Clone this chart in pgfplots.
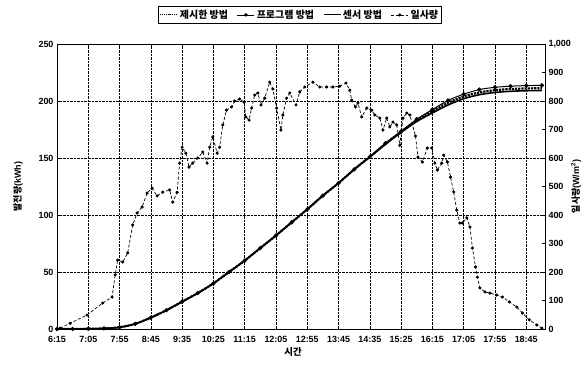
\documentclass[border=0pt]{standalone}
\usepackage{fontspec}
\setmainfont{Liberation Sans}
\newfontfamily\kr{Noto Sans CJK KR}
\usepackage{pgfplots}
\pgfplotsset{compat=1.18}

\pgfplotstableread{
t proposed program sensor
0 0 0 0
25 0 0 0
50 0.2 0.2 0.2
75 0.5 0.5 0.5
100 1.5 1.5 1.5
125 4.5 4.5 4.5
150 10 10 10
175 16.5 16.5 16.5
200 24 24 24
225 31.5 31.5 31.5
250 40 40 40
275 50 50 50
300 60 60 60
325 71 71 71
350 82 82 82
375 93.5 93.5 93.5
400 105 105 105
425 117 117 117
450 128 128 128
475 140 140 140
500 151 151 151
525 162.5 163 162
550 173 173.5 172.5
575 183 184 182
600 191 192.5 189.5
625 198.5 200.5 196.5
650 204 206 202
675 207.5 210 205.5
700 209.5 212 207.5
725 210.5 213 208.5
750 211 213.5 209
775 211.2 213.7 209.2
}\power

\pgfplotstableread{
t w
5 3
21 20
48 49
73 91
88 112
93 190
97 242
105 235
113 267
121 365
128 407
136 428
144 477
152 494
160 467
169 480
180 488
185 445
192 480
196 582
200 638
206 617
211 568
217 582
225 600
233 621
240 582
244 638
249 674
256 617
260 638
265 716
271 768
279 779
284 800
292 807
299 796
302 744
307 733
311 775
316 821
321 828
326 786
332 810
340 866
345 842
351 775
358 698
361 751
367 810
372 828
382 786
388 832
396 849
409 866
420 849
431 849
441 849
452 852
462 863
468 838
471 803
477 779
481 793
487 744
495 775
503 768
508 751
516 740
521 698
527 740
532 709
537 726
543 716
548 645
553 740
559 758
564 751
573 677
577 603
584 586
592 635
599 635
604 582
608 558
615 582
618 610
624 586
629 533
634 481
639 417
644 372
648 372
655 390
660 358
664 284
669 218
672 182
676 144
684 130
692 126
703 119
712 112
723 95
735 77
744 56
755 32
767 14
775 3
}\irr

\begin{document}
\begin{tikzpicture}
\path[use as bounding box] (0,0) rectangle (585bp,365bp);
\pgfplotsset{
  common/.style={
    at={(57bp,36bp)}, anchor=south west,
    width=488bp, height=285bp, scale only axis,
    xmin=0, xmax=780,
    xtick={0,50,...,750},
    tick label style={font=\bfseries\fontsize{9}{10}\selectfont},
    /pgf/number format/assume math mode=true,
    tick align=inside,
    major tick length=3bp,
    axis line style={line width=0.9pt},
    tick style={black, line width=0.6pt},
  }
}
\begin{axis}[common,
  ymin=0, ymax=250, ytick={0,50,...,250},
  xticklabels={6:15,7:05,7:55,8:45,9:35,10:25,11:15,12:05,12:55,13:45,14:35,15:25,16:15,17:05,17:55,18:45},
  x tick label style={yshift=-4bp},
  grid=major, grid style={black, densely dotted, line width=0.6pt},
  ylabel={{\kr\bfseries 발전량}(kWh)},
  ylabel style={at={([xshift=-39bp]axis description cs:0,0.5)}, anchor=center, font=\bfseries\fontsize{9}{10}\selectfont},
  xlabel={\kr\bfseries 시간},
  xlabel style={at={([yshift=-23bp]axis description cs:0.484,0)}, anchor=center, font=\fontsize{9.5}{10}\selectfont},
]
\addplot[black, densely dotted, line width=2.2pt, smooth] table[x=t, y=proposed] {\power};
\addplot[black, line width=1.6pt, smooth] table[x=t, y=sensor] {\power};
\addplot[black, line width=1pt, mark=*, mark size=1.6pt, smooth] table[x=t, y=program] {\power};
\end{axis}
\begin{axis}[common,
  ymin=0, ymax=1000, ytick={0,100,...,1000},
  axis y line*=right, axis x line=none,
  ylabel={{\kr\bfseries 일사량}(W/m\textsuperscript{2})},
  ylabel style={at={([xshift=31bp]axis description cs:1,0.5)}, anchor=center, rotate=0, font=\bfseries\fontsize{9}{10}\selectfont},
  legend style={at={(0.498,1.102)}, anchor=center, draw=black, line width=0.8pt,
    font=\kr\bfseries\fontsize{10}{11}\selectfont, inner sep=1.5bp, row sep=0bp},
  legend columns=4,
  legend cell align=left,
  /tikz/every even column/.append style={column sep=7bp},
]
\addlegendimage{black, densely dotted, line width=1pt}
\addlegendentry{제시한 방법}
\addlegendimage{black, line width=0.8pt, mark=*, mark size=1.3pt}
\addlegendentry{프로그램 방법}
\addlegendimage{black, line width=0.9pt}
\addlegendentry{센서 방법}
\addplot[black, densely dashed, line width=0.7pt, mark=*, mark size=1.2pt, mark options={solid}] table[x=t, y=w] {\irr};
\addlegendentry{일사량}
\end{axis}
\end{tikzpicture}
\end{document}
